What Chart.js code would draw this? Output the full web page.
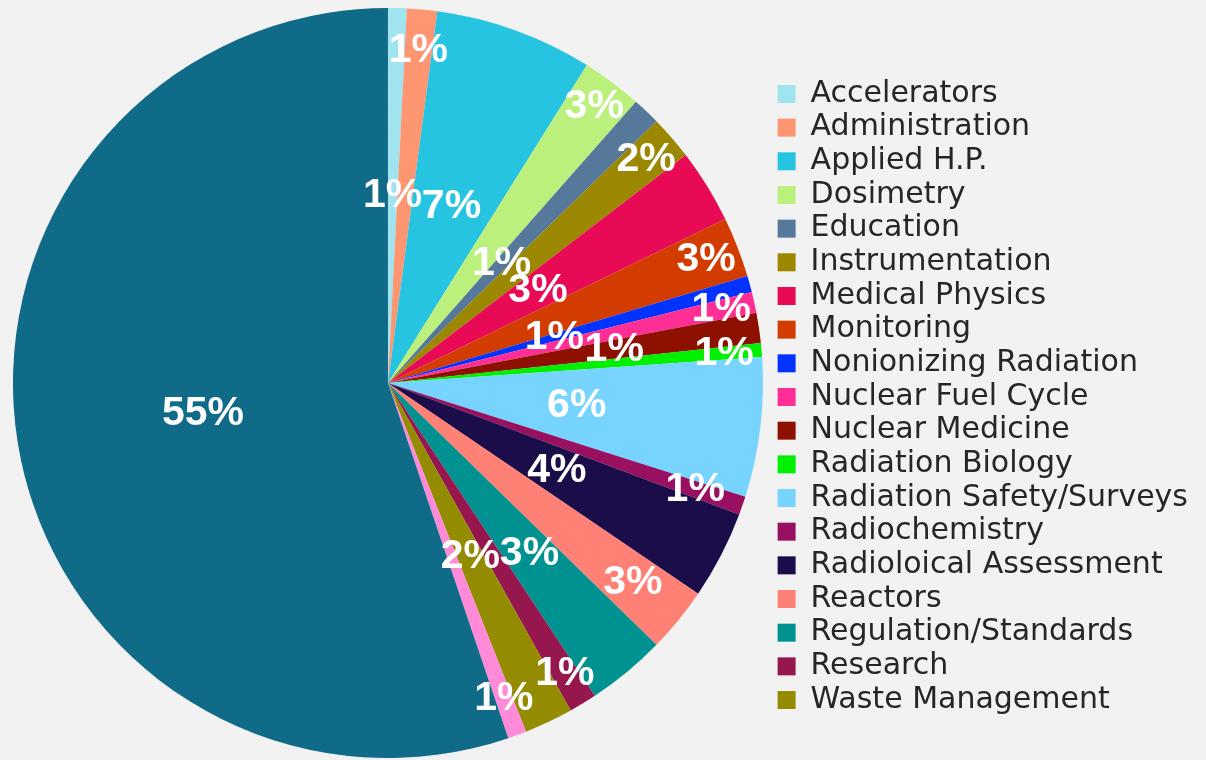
<!DOCTYPE html>
<html>
<head>
<meta charset="utf-8">
<script src="https://cdn.jsdelivr.net/npm/chart.js@4.4.1/dist/chart.umd.min.js"></script>
<style>
  html, body { margin: 0; padding: 0; background: #f2f2f2; }
  #wrap { width: 1206px; height: 760px; position: relative; }
</style>
</head>
<body>
<div id="wrap"><canvas id="c"></canvas></div>
<script>
// ---- data ----
const categories = [
  "Accelerators", "Administration", "Applied H.P.", "Dosimetry", "Education",
  "Instrumentation", "Medical Physics", "Monitoring", "Nonionizing Radiation",
  "Nuclear Fuel Cycle", "Nuclear Medicine", "Radiation Biology",
  "Radiation Safety/Surveys", "Radiochemistry", "Radioloical Assessment",
  "Reactors", "Regulation/Standards", "Research", "Waste Management",
  "Other", "Unspecified"
];
const shares = [
  0.8, 1.3, 6.8, 2.6, 1.2,
  1.9, 3.2, 2.6, 0.7,
  0.9, 1.3, 0.6,
  6.0, 0.8, 3.8,
  2.8, 3.4, 1.2, 2.1,
  0.8, 55.2
];
const legendCount = 19; // only the first 19 categories appear in the legend

// ---- styles ----
const colors = [
  "#a0e4f0", "#ff9672", "#27c4e1", "#bbf07c", "#56789b",
  "#9b8800", "#e80a55", "#d23c00", "#0033ff",
  "#ff2e94", "#8e1000", "#00f000",
  "#76d4ff", "#9a1060", "#1a0d4a",
  "#ff8075", "#009191", "#96174e", "#948c00",
  "#ff8ad8", "#0f6b87"
];
const labelRadius = [
  0.50, 0.89, 0.50, 0.92, 0.44,
  0.91, 0.47, 0.91, 0.46,
  0.91, 0.61, 0.90,
  0.507, 0.867, 0.507,
  0.843, 0.592, 0.907, 0.512,
  0.896, 0.50
];

const sliceLabels = {
  id: 'sliceLabels',
  afterDatasetsDraw(chart) {
    const ctx = chart.ctx;
    const meta = chart.getDatasetMeta(0);
    const data = chart.data.datasets[0].data;
    const total = data.reduce((a, b) => a + b, 0);
    ctx.save();
    ctx.font = 'bold 41px "Liberation Sans", Arial, sans-serif';
    ctx.fillStyle = '#ffffff';
    ctx.textAlign = 'center';
    ctx.textBaseline = 'middle';
    meta.data.forEach((arc, i) => {
      const p = arc.getProps(['x', 'y', 'startAngle', 'endAngle', 'outerRadius'], true);
      const mid = (p.startAngle + p.endAngle) / 2;
      const r = p.outerRadius * labelRadius[i];
      ctx.fillText(Math.round(data[i] / total * 100) + '%', p.x + r * Math.cos(mid), p.y + r * Math.sin(mid));
    });
    ctx.restore();
  }
};

new Chart(document.getElementById('c'), {
  type: 'pie',
  data: {
    labels: categories,
    datasets: [{
      data: shares,
      backgroundColor: colors,
      borderWidth: 0
    }]
  },
  options: {
    responsive: true,
    maintainAspectRatio: false,
    devicePixelRatio: 1,
    animation: false,
    layout: { padding: { left: 2, top: 8, bottom: 2, right: 8 } },
    plugins: {
      tooltip: { enabled: false },
      legend: {
        position: 'right',
        align: 'start',
        title: {
          display: true,
          text: ' ',
          font: { size: 10, lineHeight: 1.2 },
          padding: { top: 55.3, bottom: 0 }
        },
        labels: {
          boxWidth: 18,
          boxHeight: 18,
          padding: 3.67,
          color: '#262626',
          font: { family: '"DejaVu Sans", sans-serif', size: 30 },
          filter: (item) => item.index < legendCount
        }
      }
    }
  },
  plugins: [sliceLabels]
});
</script>
</body>
</html>
